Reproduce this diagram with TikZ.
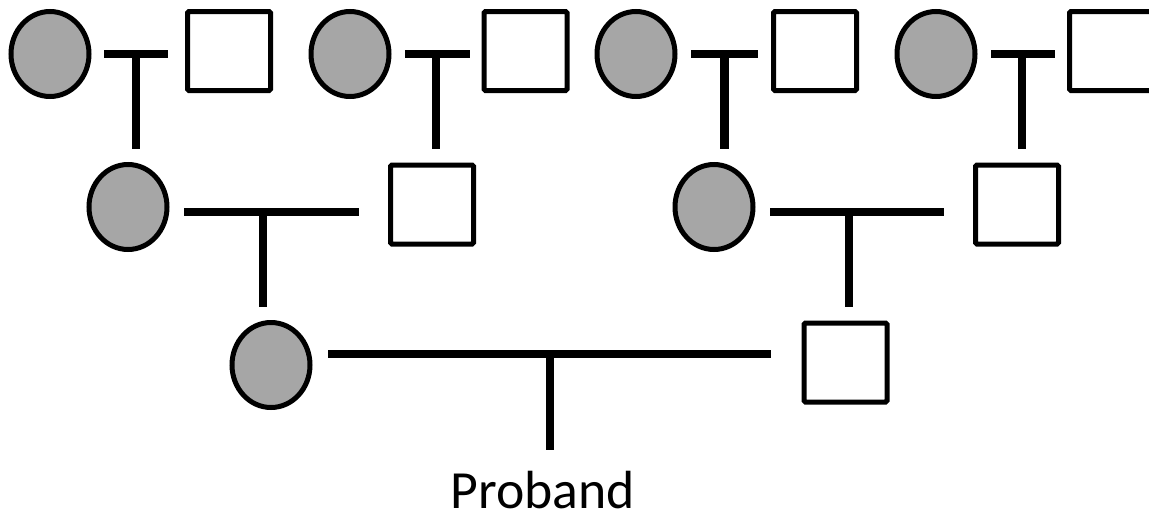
\documentclass[tikz,border=0pt]{standalone}
\usepackage{fontspec}
\setmainfont{Carlito}
\usetikzlibrary{shapes.geometric}
\definecolor{affected}{HTML}{A6A6A6}
\tikzstyle{person}=[draw=black, line width=5pt, inner sep=0pt, outer sep=0pt]
\tikzstyle{female}=[person, ellipse, fill=affected, minimum width=78pt,
  minimum height=85pt]
\tikzstyle{male}=[person, rectangle, fill=white, rounded corners=1.5pt,
  minimum width=83pt, minimum height=79pt]
\tikzstyle{couple}=[draw, line width=8.5pt]
\tikzstyle{descent}=[draw, line width=8.5pt]
\tikzstyle{caption}=[inner sep=0pt, anchor=base, font=\fontsize{53.7}{60}\selectfont]

\begin{document}
\begin{tikzpicture}[x=1pt,y=-1pt]
  \useasboundingbox (0,0) rectangle (1149,517);

  % Draw the persons
  % grandparents
  \node[female] (GF1) at (50,54) {};
  \node[male]   (GM1) at (229,51) {};
  \node[female] (GF2) at (350,54) {};
  \node[male]   (GM2) at (525.5,51) {};
  \node[female] (GF3) at (636,54) {};
  \node[male]   (GM3) at (815,51) {};
  \node[female] (GF4) at (936,54) {};
  \node[male]   (GM4) at (1111,51) {};
  % parents
  \node[female] (MOTHER) at (128,207) {};
  \node[male]   (FATHERM) at (432,204.5) {};
  \node[female] (MOTHERF) at (714,207) {};
  \node[male]   (FATHER) at (1017,204.5) {};
  % couple of the proband
  \node[female] (PMOTHER) at (271,365) {};
  \node[male]   (PFATHER) at (845.5,362.5) {};
  \node[caption] (PROBAND) at (542.5,508) {Proband};

  % Draw the couple lines
  \path [couple] ([xshift=15pt]GF1.east) -- ([xshift=-19.5pt]GF1.east -| GM1.west)
    coordinate[midway] (U1);
  \path [couple] ([xshift=16pt]GF2.east) -- ([xshift=-14.5pt]GF2.east -| GM2.west)
    coordinate[midway] (U2);
  \path [couple] ([xshift=16pt]GF3.east) -- ([xshift=-15.5pt]GF3.east -| GM3.west)
    coordinate[midway] (U3);
  \path [couple] ([xshift=16pt]GF4.east) -- ([xshift=-14.5pt]GF4.east -| GM4.west)
    coordinate[midway] (U4);
  \path [couple] ([xshift=17pt,yshift=-5pt]MOTHER.east)
    -- ([xshift=-31.5pt,yshift=-5pt]MOTHER.east -| FATHERM.west);
  \path [couple] ([xshift=17pt,yshift=-5pt]MOTHERF.east)
    -- ([xshift=-31.5pt,yshift=-5pt]MOTHERF.east -| FATHER.west);
  \path [couple] ([xshift=18pt,yshift=11pt]PMOTHER.east)
    -- ([xshift=-33pt,yshift=11pt]PMOTHER.east -| PFATHER.west);

  % Draw the lines of descent
  \path [descent] (U1) -- ([yshift=15.5pt]U1 |- MOTHER.north);
  \path [descent] ([xshift=-1.5pt]U2) -- ([xshift=-1.5pt,yshift=16pt]U2 |- FATHERM.north);
  \path [descent] (U3) -- ([yshift=15.5pt]U3 |- MOTHERF.north);
  \path [descent] ([xshift=-1pt]U4) -- ([xshift=-1pt,yshift=16pt]U4 |- FATHER.north);
  \path [descent] (263,212) coordinate (U5) -- ([yshift=15.5pt]U5 |- PMOTHER.north);
  \path [descent] (849,212) coordinate (U6) -- ([yshift=16pt]U6 |- PFATHER.north);
  \path [descent] (550,354) coordinate (U7) -- ([yshift=21pt]U7 |- PROBAND.north);

\end{tikzpicture}
\end{document}
